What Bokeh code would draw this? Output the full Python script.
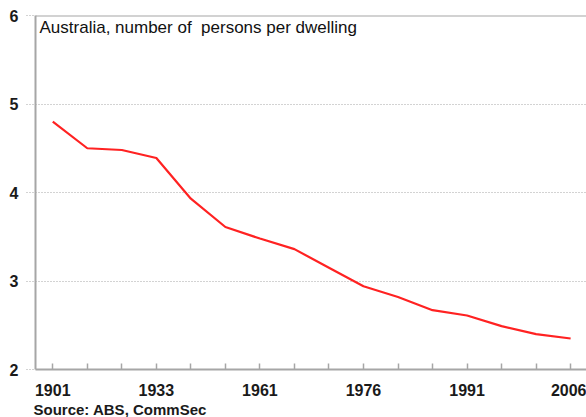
from bokeh.plotting import figure
from bokeh.models import Range1d, FixedTicker, Span, Label, Title
from bokeh.embed import file_html
from bokeh.resources import INLINE

years = ["1901", "1911", "1921", "1933", "1947", "1954", "1961", "1966",
         "1971", "1976", "1981", "1986", "1991", "1996", "2001", "2006"]
persons = [4.80, 4.50, 4.48, 4.39, 3.93, 3.61, 3.48, 3.36,
           3.15, 2.94, 2.82, 2.67, 2.61, 2.49, 2.40, 2.35]
shown_labels = ["1901", "1933", "1961", "1976", "1991", "2006"]
y_ticks = [2, 3, 4, 5, 6]
subtitle = "Australia, number of \u00a0persons per dwelling"
source = "Source: ABS, CommSec"

FONT = "Liberation Sans"
GREY = "#a6a6a6"

x = list(range(len(years)))

p = figure(width=586, height=417, output_backend="svg", toolbar_location=None,
           x_range=Range1d(-0.5, len(years) - 0.54), y_range=Range1d(2, 6),
           min_border_left=35, min_border_right=0, min_border_top=15,
           min_border_bottom=47)
p.title = None
p.outline_line_color = None
p.background_fill_color = "white"
p.border_fill_color = "white"

p.line(x, persons, line_color="#ff2222", line_width=2.2)

# x axis
p.xaxis.ticker = FixedTicker(ticks=x)
p.xaxis.major_label_overrides = {i: (y if y in shown_labels else "") for i, y in enumerate(years)}
p.xaxis.major_tick_in = 6
p.xaxis.major_tick_out = 0
p.xaxis.major_tick_line_color = GREY
p.xaxis.major_tick_line_width = 1.5
p.xaxis.minor_tick_line_color = None
p.xaxis.axis_line_color = GREY
p.xaxis.axis_line_width = 2
p.xaxis.major_label_standoff = 14
p.xaxis.major_label_text_font = FONT
p.xaxis.major_label_text_font_style = "bold"
p.xaxis.major_label_text_font_size = "16px"
p.xaxis.major_label_text_color = "#1a1a1a"

# y axis
p.yaxis.ticker = FixedTicker(ticks=y_ticks)
p.yaxis.major_tick_in = 0
p.yaxis.major_tick_out = 9
p.yaxis.major_tick_line_color = GREY
p.yaxis.major_tick_line_dash = "1 2"
p.yaxis.minor_tick_line_color = None
p.yaxis.axis_line_color = GREY
p.yaxis.axis_line_width = 2
p.yaxis.major_label_standoff = 8
p.yaxis.major_label_text_font = FONT
p.yaxis.major_label_text_font_style = "bold"
p.yaxis.major_label_text_font_size = "16px"
p.yaxis.major_label_text_color = "#1a1a1a"

p.xgrid.grid_line_color = None
p.ygrid.ticker = FixedTicker(ticks=y_ticks[1:-1])
p.ygrid.grid_line_color = GREY
p.ygrid.grid_line_dash = "1 2"
p.ygrid.grid_line_width = 1

p.add_layout(Span(location=y_ticks[-1], dimension="width", line_color=GREY, line_width=2))

p.add_layout(Label(x=-0.5, y=6, x_offset=4, y_offset=-2, text=subtitle,
                   text_font=FONT, text_font_size="17px", text_color="#111111",
                   text_baseline="top"))
p.add_layout(Title(text=source, align="left", offset=-2, standoff=0,
                   text_font=FONT, text_font_size="15px", text_font_style="bold",
                   text_color="#1a1a1a"), "below")

open("out.html", "w").write(file_html(p, INLINE))
